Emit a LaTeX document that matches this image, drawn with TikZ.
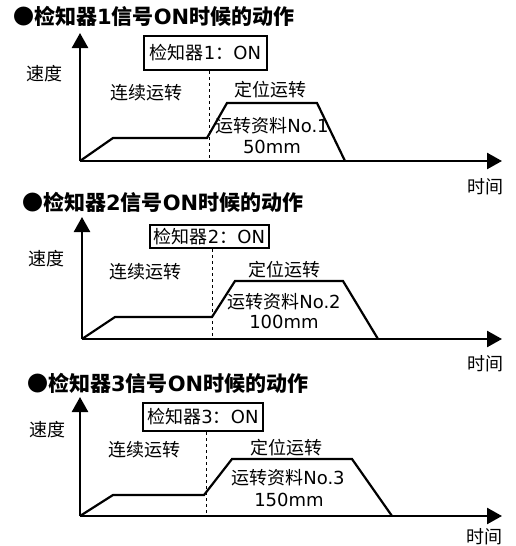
\documentclass[tikz,border=0pt]{standalone}
\usepackage{fontspec}
\setmainfont{DejaVu Sans}
\newfontfamily\cjk{Noto Sans CJK SC}
\usetikzlibrary{arrows.meta}
\newcommand{\zh}[1]{{\cjk #1}}
\newcommand{\heading}[1]{\zh{●检知器}#1\zh{信号}ON\zh{时候的动作}}
\newcommand{\sensor}[1]{\zh{检知器}#1\zh{：}ON}
\newcommand{\rundata}[1]{\zh{运转资料}No.#1}

\begin{document}
\begin{tikzpicture}[x=1pt,y=-1pt,
    every node/.style={draw=none, inner sep=0pt, font=\fontsize{18}{21}\selectfont},
    title/.style={anchor=west, font=\fontsize{21}{25}\selectfont\bfseries},
    sensorbox/.style={draw, line width=2pt},
    axis/.style={line width=2.5pt, -{Triangle[length=15pt,width=16pt]}},
    profile/.style={line width=2.2pt, line join=miter}]
    \useasboundingbox (0,0) rectangle (516,546);

    % detector 1
    \node[title] (title-1) at (13,16) {\heading{1}};
    \coordinate (o-1) at (80,161);
    \coordinate (v-1) at (80,33);
    \coordinate (t-1) at (502,161);
    \draw[axis] (o-1) -- (v-1);
    \draw[axis] (o-1) -- (t-1);
    \node (speed-1) at (45,74) {\zh{速度}};
    \node (time-1)  at (485,187) {\zh{时间}};
    \node[sensorbox, minimum width=123pt, minimum height=34pt] (on-1) at (205.5,53) {\sensor{1}};
    \coordinate (d-1) at (209,161);
    \draw[dashed] (on-1.south -| d-1) -- (d-1);
    \node (cont-1) at (146,93) {\zh{连续运转}};
    \node (pos-1)  at (270,90) {\zh{定位运转}};
    \draw[profile] (80,161) -- (113,138) -- (207,138) -- (227,103) -- (317,103) -- (345,161);
    \node (data-1) at (272,126) {\rundata{1}};
    \node (dist-1) at (272,147) {50mm};

    % detector 2
    \node[title] (title-2) at (22,202) {\heading{2}};
    \coordinate (o-2) at (82,339);
    \coordinate (v-2) at (82,217);
    \coordinate (t-2) at (502,339);
    \draw[axis] (o-2) -- (v-2);
    \draw[axis] (o-2) -- (t-2);
    \node (speed-2) at (46,259) {\zh{速度}};
    \node (time-2)  at (485,364) {\zh{时间}};
    \node[sensorbox, minimum width=119pt, minimum height=23pt] (on-2) at (209.5,236.5) {\sensor{2}};
    \coordinate (d-2) at (212,339);
    \draw[dashed] (on-2.south -| d-2) -- (d-2);
    \node (cont-2) at (145,272) {\zh{连续运转}};
    \node (pos-2)  at (284,270) {\zh{定位运转}};
    \draw[profile] (82,339) -- (115,317) -- (212,317) -- (235,281) -- (343,281) -- (378,339);
    \node (data-2) at (284,302) {\rundata{2}};
    \node (dist-2) at (284,322) {100mm};

    % detector 3
    \node[title] (title-3) at (27,383) {\heading{3}};
    \coordinate (o-3) at (80,516);
    \coordinate (v-3) at (80,397);
    \coordinate (t-3) at (502,516);
    \draw[axis] (o-3) -- (v-3);
    \draw[axis] (o-3) -- (t-3);
    \node (speed-3) at (47,430) {\zh{速度}};
    \node (time-3)  at (484,537) {\zh{时间}};
    \node[sensorbox, minimum width=120pt, minimum height=28pt] (on-3) at (203,417) {\sensor{3}};
    \coordinate (d-3) at (206,516);
    \draw[dashed] (on-3.south -| d-3) -- (d-3);
    \node (cont-3) at (144,450) {\zh{连续运转}};
    \node (pos-3)  at (286,448) {\zh{定位运转}};
    \draw[profile] (80,516) -- (113,495) -- (204,495) -- (232,459) -- (352,459) -- (392,516);
    \node (data-3) at (288,478) {\rundata{3}};
    \node (dist-3) at (289,500) {150mm};
  \end{tikzpicture}
\end{document}
